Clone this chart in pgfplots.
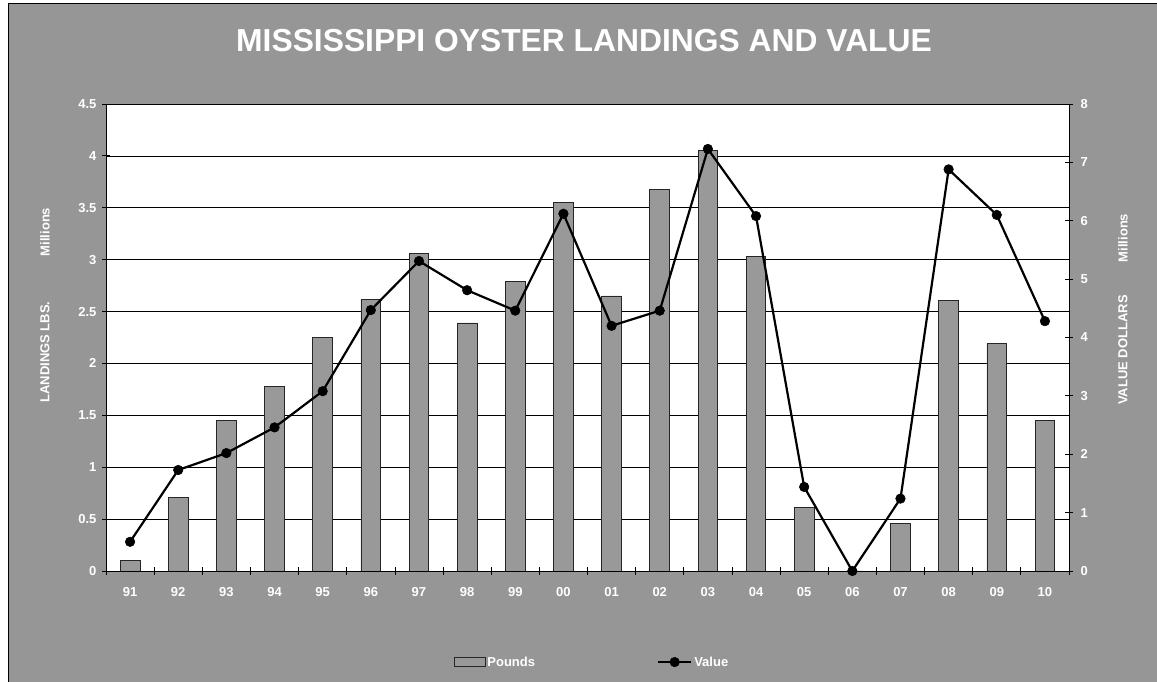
\documentclass[border=0pt]{standalone}
\usepackage{pgfplots}
\pgfplotsset{compat=1.18}
\usepackage{fontspec}
\setmainfont{Liberation Sans}
\definecolor{bggray}{RGB}{150,150,150}
\definecolor{bargray}{RGB}{153,153,153}
\newcommand\lab{\fontsize{13}{15}\selectfont\bfseries}
\pgfplotsset{valuelegend/.style={legend image code/.code={\draw[mark repeat=2,mark phase=2,##1] plot coordinates {(0pt,0pt) (16.5pt,0pt) (33pt,0pt)};}}}
\begin{document}
\begin{tikzpicture}
\useasboundingbox (0,0) rectangle (1157pt,682pt);
\fill[white] (0,0) rectangle (1157pt,682pt);
\filldraw[fill=bggray, draw=black, line width=1pt] (8pt,-5pt) rectangle (1165pt,678pt);
\node[anchor=center, inner sep=0pt, text=white, font=\fontsize{31.8}{36}\selectfont\bfseries] at (584pt,641pt) {MISSISSIPPI OYSTER LANDINGS AND VALUE};
\node[rotate=90, anchor=center, inner sep=0pt, text=white, font=\lab] at (45pt,330pt) {LANDINGS LBS.};
\node[rotate=90, anchor=center, inner sep=0pt, text=white, font=\lab] at (45pt,450pt) {Millions};
\node[rotate=90, anchor=center, inner sep=0pt, text=white, font=\lab] at (1123pt,332pt) {VALUE DOLLARS};
\node[rotate=90, anchor=center, inner sep=0pt, text=white, font=\lab] at (1123pt,444pt) {Millions};

\begin{axis}[
  scale only axis, width=963pt, height=467pt,
  at={(106pt,111pt)}, anchor=south west,
  xmin=-0.5, xmax=19.5, ymin=0, ymax=4.5,
  axis background/.style={fill=white},
  axis line style={black, line width=0.8pt},
  /pgf/number format/assume math mode=true,
  xtick={-0.5,0.5,1.5,2.5,3.5,4.5,5.5,6.5,7.5,8.5,9.5,10.5,11.5,12.5,13.5,14.5,15.5,16.5,17.5,18.5,19.5},
  xticklabels={},
  extra x ticks={0,1,2,3,4,5,6,7,8,9,10,11,12,13,14,15,16,17,18,19},
  extra x tick labels={91,92,93,94,95,96,97,98,99,00,01,02,03,04,05,06,07,08,09,10},
  extra x tick style={major tick length=0pt},
  ytick={0,0.5,1,1.5,2,2.5,3,3.5,4,4.5},
  yticklabels={0,0.5,1,1.5,2,2.5,3,3.5,4,4.5},
  xtick pos=bottom, ytick pos=left,
  tick align=center, major tick length=8pt,
  tick style={black, line width=0.8pt},
  ymajorgrids, grid style={black, line width=0.6pt},
  ticklabel style={font=\lab, text=white},
  xticklabel style={yshift=-13pt},
  yticklabel style={xshift=-2pt},
]
\addplot[ybar, bar width=19.7pt, bar shift=0pt, fill=bargray, draw=black!85, line width=0.8pt] coordinates {
(0,0.10) (1,0.71) (2,1.45) (3,1.78) (4,2.25) (5,2.62) (6,3.06) (7,2.39) (8,2.79) (9,3.55)
(10,2.65) (11,3.68) (12,4.05) (13,3.03) (14,0.61) (15,0) (16,0.46) (17,2.61) (18,2.19) (19,1.45)};
\end{axis}

\begin{axis}[
  scale only axis, width=963pt, height=467pt,
  at={(106pt,111pt)}, anchor=south west,
  xmin=-0.5, xmax=19.5, ymin=0, ymax=8,
  axis line style={black, line width=0.8pt},
  /pgf/number format/assume math mode=true,
  xtick=\empty,
  ytick={0,1,2,3,4,5,6,7,8},
  yticklabels={0,1,2,3,4,5,6,7,8},
  ytick pos=right, yticklabel pos=right,
  tick align=center, major tick length=8pt,
  tick style={black, line width=0.8pt},
  ticklabel style={font=\lab, text=white},
  yticklabel style={xshift=4pt},
  clip=false,
  legend columns=2,
  legend style={at={(0.5046,-0.195)}, anchor=center, draw=none, fill=none, font=\lab, text=white,
    /tikz/every even column/.append style={column sep=120pt}},
]
\addlegendimage{legend image code/.code={\draw[fill=bargray, draw=black!85, line width=0.8pt] (0pt,-4.5pt) rectangle (31pt,4.5pt);}}
\addlegendentry{Pounds}
\addplot[black, line width=2.2pt, mark=*, mark size=4.8pt, mark options={solid, fill=black, line width=0.5pt}, valuelegend] coordinates {
(0,0.50) (1,1.73) (2,2.02) (3,2.46) (4,3.08) (5,4.47) (6,5.31) (7,4.81) (8,4.46) (9,6.12)
(10,4.20) (11,4.46) (12,7.23) (13,6.08) (14,1.44) (15,0) (16,1.24) (17,6.88) (18,6.10) (19,4.28)};
\addlegendentry{Value}
\end{axis}
\end{tikzpicture}
\end{document}
